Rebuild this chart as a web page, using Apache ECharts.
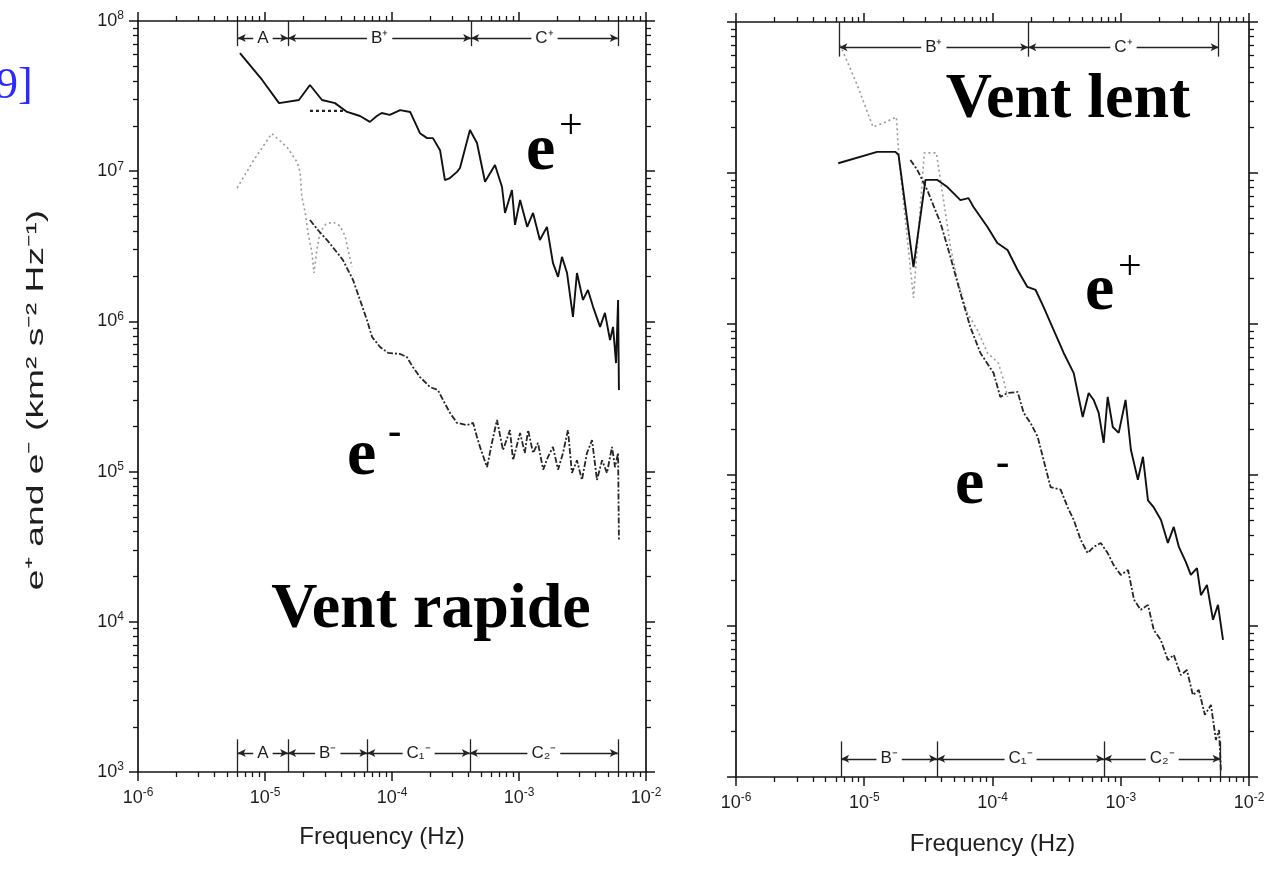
<!DOCTYPE html>
<html><head><meta charset="utf-8">
<style>html,body{margin:0;padding:0;background:#fff}#c{width:1276px;height:877px}</style>
<script src="https://cdn.jsdelivr.net/npm/echarts@6.0.0/dist/echarts.min.js"></script>
</head><body><div id="c"></div>
<script>
// ---------- tick labels ----------
const xTickValues = [1e-6, 1e-5, 1e-4, 1e-3, 1e-2];
const xTickExp = ['-6', '-5', '-4', '-3', '-2'];
const yTickValues = [1e3, 1e4, 1e5, 1e6, 1e7, 1e8];
const yTickExp = ['3', '4', '5', '6', '7', '8'];
const xAxisTitle = 'Frequency (Hz)';
const yAxisTitle = 'e⁺ and e⁻ (km² s⁻² Hz⁻¹)';

// ---------- Vent rapide (left panel) ----------
const fastEplus = [
  [6.35e-6, 6.12e7], [9.5e-6, 4.05e7], [1.29e-5, 2.84e7], [1.85e-5, 2.98e7], [2.26e-5, 3.75e7],
  [2.81e-5, 2.98e7], [3.56e-5, 2.84e7], [4.43e-5, 2.48e7], [5.6e-5, 2.33e7], [6.7e-5, 2.13e7],
  [7.6e-5, 2.33e7], [8.3e-5, 2.44e7], [9.6e-5, 2.37e7], [1.16e-4, 2.55e7], [1.39e-4, 2.48e7],
  [1.66e-4, 1.79e7], [1.89e-4, 1.66e7], [2.10e-4, 1.66e7], [2.39e-4, 1.38e7], [2.61e-4, 8.73e6],
  [2.86e-4, 9.0e6], [3.25e-4, 9.9e6], [3.43e-4, 1.05e7], [4.11e-4, 1.88e7], [4.67e-4, 1.54e7],
  [5.4e-4, 8.5e6], [6.47e-4, 1.10e7], [7.35e-4, 7.85e6], [7.76e-4, 5.27e6], [8.8e-4, 7.5e6],
  [9.3e-4, 4.39e6], [1.02e-3, 6.43e6], [1.16e-3, 4.26e6], [1.29e-3, 5.27e6], [1.46e-3, 3.48e6],
  [1.66e-3, 4.26e6], [1.85e-3, 2.45e6], [2.03e-3, 1.98e6], [2.18e-3, 2.69e6], [2.39e-3, 2.10e6],
  [2.66e-3, 1.07e6], [2.86e-3, 2.10e6], [3.19e-3, 1.39e6], [3.49e-3, 1.62e6], [3.83e-3, 1.25e6],
  [4.35e-3, 9.2e5], [4.75e-3, 1.14e6], [5.21e-3, 7.5e5], [5.5e-3, 9.2e5], [5.81e-3, 5.28e5],
  [6.03e-3, 1.39e6], [6.12e-3, 3.49e5]
];
const fastEplusDotted = [[2.26e-5, 2.52e7], [4.27e-5, 2.52e7]];
const fastEminusDotted = [
  [6.03e-6, 7.73e6], [8.18e-6, 1.19e7], [1.13e-5, 1.78e7], [1.49e-5, 1.45e7], [1.79e-5, 1.15e7],
  [1.89e-5, 9.9e6], [1.95e-5, 6.73e6], [2.07e-5, 5.35e6], [2.18e-5, 3.88e6], [2.34e-5, 2.90e6],
  [2.43e-5, 2.10e6], [2.56e-5, 2.99e6], [2.71e-5, 3.94e6], [3.02e-5, 4.45e6], [3.43e-5, 4.59e6],
  [3.90e-5, 4.32e6], [4.27e-5, 3.71e6], [4.51e-5, 2.99e6], [4.84e-5, 2.30e6]
];
const fastEminus = [
  [2.26e-5, 4.73e6], [2.61e-5, 4.06e6], [3.08e-5, 3.48e6], [3.56e-5, 2.99e6], [4.11e-5, 2.56e6],
  [4.93e-5, 1.89e6], [5.6e-5, 1.39e6], [6.35e-5, 1.02e6], [6.97e-5, 7.87e5], [8.05e-5, 6.76e5],
  [9.31e-5, 6.17e5], [1.16e-4, 6.07e5], [1.31e-4, 5.79e5], [1.46e-4, 4.97e5], [1.66e-4, 4.26e5],
  [1.99e-4, 3.66e5], [2.30e-4, 3.49e5], [2.52e-4, 3.00e5], [2.86e-4, 2.46e5], [3.25e-4, 2.11e5],
  [3.90e-4, 2.04e5], [4.35e-4, 2.11e5], [4.67e-4, 1.70e5], [4.93e-4, 1.46e5], [5.6e-4, 1.07e5],
  [6.12e-4, 1.55e5], [6.71e-4, 2.21e5], [7.48e-4, 1.39e5], [8.49e-4, 1.89e5], [8.97e-4, 1.19e5],
  [1.02e-3, 1.81e5], [1.11e-3, 1.33e5], [1.18e-3, 1.89e5], [1.29e-3, 1.33e5], [1.41e-3, 1.55e5],
  [1.55e-3, 1.03e5], [1.69e-3, 1.25e5], [1.85e-3, 1.46e5], [2.03e-3, 1.03e5], [2.22e-3, 1.33e5],
  [2.43e-3, 1.89e5], [2.61e-3, 9.8e4], [2.86e-3, 1.19e5], [3.13e-3, 8.8e4], [3.43e-3, 1.33e5],
  [3.76e-3, 1.62e5], [4.11e-3, 8.8e4], [4.51e-3, 1.19e5], [4.93e-3, 9.8e4], [5.4e-3, 1.46e5],
  [5.7e-3, 1.07e5], [6.03e-3, 1.33e5], [6.12e-3, 3.5e4]
];

// ---------- Vent lent (right panel) ----------
const slowEplus = [
  [6.27e-6, 1.16e7], [1.26e-5, 1.38e7], [1.75e-5, 1.38e7], [1.85e-5, 1.32e7], [2.42e-5, 2.38e6],
  [3.0e-5, 9.0e6], [3.72e-5, 9.0e6], [4.45e-5, 8.07e6], [5.62e-5, 6.62e6], [6.5e-5, 6.82e6],
  [7.11e-5, 5.96e6], [9.14e-5, 4.39e6], [1.09e-4, 3.44e6], [1.31e-4, 3.09e6], [1.57e-4, 2.28e6],
  [1.87e-4, 1.76e6], [2.17e-4, 1.68e6], [2.50e-4, 1.30e6], [3.0e-4, 9.1e5], [3.59e-4, 6.43e5],
  [4.30e-4, 4.73e5], [5.05e-4, 2.42e5], [5.62e-4, 3.49e5], [6.15e-4, 3.14e5], [6.73e-4, 2.58e5],
  [7.36e-4, 1.63e5], [7.91e-4, 3.29e5], [8.67e-4, 2.08e5], [9.64e-4, 1.90e5], [1.09e-3, 3.14e5],
  [1.20e-3, 1.47e5], [1.36e-3, 9.3e4], [1.49e-3, 1.32e5], [1.63e-3, 6.8e4], [1.81e-3, 6.1e4],
  [2.06e-3, 5.04e4], [2.33e-3, 3.55e4], [2.59e-3, 4.53e4], [2.84e-3, 3.34e4], [3.22e-3, 2.65e4],
  [3.52e-3, 2.18e4], [3.93e-3, 2.42e4], [4.22e-3, 1.60e4], [4.70e-3, 1.87e4], [5.24e-3, 1.10e4],
  [5.73e-3, 1.38e4], [6.27e-3, 8.1e3]
];
const slowEminusDotted = [
  [6.49e-6, 7.05e7], [8.81e-6, 3.83e7], [1.17e-5, 2.02e7], [1.41e-5, 2.14e7], [1.78e-5, 2.35e7],
  [1.87e-5, 1.22e7], [2.42e-5, 1.49e6], [2.94e-5, 1.36e7], [3.65e-5, 1.36e7], [3.93e-5, 9.0e6],
  [4.30e-5, 5.43e6], [4.70e-5, 3.24e6], [5.33e-5, 1.95e6], [6.38e-5, 1.18e6], [7.64e-5, 9.1e5],
  [9.14e-5, 6.43e5], [1.11e-4, 5.52e5], [1.22e-4, 4.26e5], [1.31e-4, 3.29e5]
];
const slowEminus = [
  [2.29e-5, 1.22e7], [2.59e-5, 1.05e7], [3.10e-5, 7.71e6], [3.93e-5, 4.67e6], [4.70e-5, 2.78e6],
  [5.62e-5, 1.60e6], [6.73e-5, 9.5e5], [8.05e-5, 6.43e5], [1.02e-4, 4.73e5], [1.15e-4, 3.29e5],
  [1.31e-4, 3.49e5], [1.57e-4, 3.55e5], [1.75e-4, 2.58e5], [1.98e-4, 2.21e5], [2.25e-4, 1.79e5],
  [2.50e-4, 1.26e5], [2.84e-4, 8.3e4], [3.40e-4, 8.0e4], [3.86e-4, 6.1e4], [4.30e-4, 5.04e4],
  [4.87e-4, 3.72e4], [5.52e-4, 3.04e4], [6.15e-4, 3.34e4], [6.98e-4, 3.55e4], [7.91e-4, 3.04e4],
  [8.81e-4, 2.53e4], [1.0e-3, 2.18e4], [1.14e-3, 2.35e4], [1.27e-3, 1.49e4], [1.43e-3, 1.28e4],
  [1.63e-3, 1.38e4], [1.81e-3, 9.4e3], [2.05e-3, 8.1e3], [2.33e-3, 5.96e3], [2.59e-3, 6.43e3],
  [2.94e-3, 4.73e3], [3.28e-3, 5.11e3], [3.65e-3, 3.49e3], [4.06e-3, 3.77e3], [4.53e-3, 2.58e3],
  [5.05e-3, 3.0e3], [5.52e-3, 1.76e3], [5.84e-3, 2.05e3], [6.04e-3, 1.08e3]
];

// ---------- frequency bands (bracket boundaries & labels) ----------
const fastTopBounds = [6.1e-6, 1.52e-5, 4.2e-4, 6.0e-3];
const fastTopLabels = ['A', 'B⁺', 'C⁺'];
const fastBottomBounds = [6.1e-6, 1.52e-5, 6.4e-5, 4.1e-4, 6.0e-3];
const fastBottomLabels = ['A', 'B⁻', 'C₁⁻', 'C₂⁻'];
const slowTopBounds = [6.4e-6, 1.9e-4, 5.8e-3];
const slowTopLabels = ['B⁺', 'C⁺'];
const slowBottomBounds = [6.6e-6, 3.7e-5, 7.4e-4, 6.0e-3];
const slowBottomLabels = ['B⁻', 'C₁⁻', 'C₂⁻'];

// ---------- layout (positions / styles) ----------
const grids = [
  { left: 138, top: 21, width: 508, height: 751 },
  { left: 736, top: 22, width: 513, height: 755 }
];
const titlePadding = [[0, 20, 0, 0], [0, 0, 0, 0]];
// vertical placement of the band brackets (in data units of the y axis)
const bracketLevels = {
  fastTop:    { line: 7.7e7, tickFrom: 1.0e8, tickTo: 6.8e7 },
  fastBottom: { line: 1.34e3, tickFrom: 1.65e3, tickTo: 1.0e3 },
  slowTop:    { line: 6.8e7, tickFrom: 1.0e8, tickTo: 5.9e7 },
  slowBottom: { line: 1.32e3, tickFrom: 1.72e3, tickTo: 1.0e3 }
};

const INK = '#141414';
const SANS = '"Liberation Sans", Arial, sans-serif';
const SERIF = '"Liberation Serif", "Times New Roman", serif';

function minorValues(lo, hi) {
  const out = [];
  for (let e = lo; e < hi; e++) for (let k = 2; k <= 9; k++) out.push(k * Math.pow(10, e));
  return out;
}
const xMinor = minorValues(-6, -2);
const yMinor = minorValues(3, 8);

function expLabel(values, exps) {
  return function (v) {
    let i = values.findIndex(t => Math.abs(Math.log10(t) - Math.log10(v)) < 1e-6);
    if (i < 0) return '';
    return '{b|10}{s|' + exps[i] + '}';
  };
}
const richLab = {
  b: { fontSize: 18, fontFamily: SANS, color: '#1e1e1e', lineHeight: 22 },
  s: { fontSize: 12, fontFamily: SANS, color: '#1e1e1e', verticalAlign: 'top', lineHeight: 13 }
};

const xAxes = [], yAxes = [];
grids.forEach((g, gi) => {
  const lineS = { show: true, lineStyle: { color: INK, width: 1.7 } };
  xAxes.push({
    type: 'log', logBase: 10, gridIndex: gi, position: 'bottom', min: 1e-6, max: 1e-2,
    axisLine: lineS,
    axisTick: { show: true, customValues: xTickValues, length: 9, lineStyle: { color: INK, width: 1.5 } },
    axisLabel: { show: true, customValues: xTickValues, formatter: expLabel(xTickValues, xTickExp), rich: richLab, margin: 15 },
    splitLine: { show: false }, minorTick: { show: false },
    name: xAxisTitle, nameLocation: 'middle', nameGap: gi === 0 ? 53 : 55,
    nameTextStyle: { fontSize: 24, fontFamily: SANS, color: '#1e1e1e', padding: titlePadding[gi] }
  });
  xAxes.push({
    type: 'log', logBase: 10, gridIndex: gi, position: 'top', min: 1e-6, max: 1e-2,
    axisLine: lineS,
    axisTick: { show: true, customValues: xTickValues, length: 9, lineStyle: { color: INK, width: 1.5 } },
    axisLabel: { show: false }, splitLine: { show: false }
  });
  ['bottom', 'top'].forEach(p => xAxes.push({
    type: 'log', logBase: 10, gridIndex: gi, position: p, min: 1e-6, max: 1e-2,
    axisLine: { show: false },
    axisTick: { show: true, customValues: xMinor, length: 5, lineStyle: { color: INK, width: 1.3 } },
    axisLabel: { show: false }, splitLine: { show: false }
  }));
  yAxes.push({
    type: 'log', logBase: 10, gridIndex: gi, position: 'left', min: 1e3, max: 1e8,
    axisLine: lineS,
    axisTick: { show: true, customValues: yTickValues, length: 9, lineStyle: { color: INK, width: 1.5 } },
    axisLabel: gi === 0
      ? { show: true, customValues: yTickValues, formatter: expLabel(yTickValues, yTickExp), rich: richLab, margin: 14 }
      : { show: false },
    splitLine: { show: false }
  });
  yAxes.push({
    type: 'log', logBase: 10, gridIndex: gi, position: 'right', min: 1e3, max: 1e8,
    axisLine: lineS,
    axisTick: { show: true, customValues: yTickValues, length: 9, lineStyle: { color: INK, width: 1.5 } },
    axisLabel: { show: false }, splitLine: { show: false }
  });
  ['left', 'right'].forEach(p => yAxes.push({
    type: 'log', logBase: 10, gridIndex: gi, position: p, min: 1e3, max: 1e8,
    axisLine: { show: false },
    axisTick: { show: true, customValues: yMinor, length: 5, lineStyle: { color: INK, width: 1.3 } },
    axisLabel: { show: false }, splitLine: { show: false }
  }));
});

function curve(name, data, gi, style, z) {
  return {
    name, type: 'line', data, xAxisIndex: gi * 4, yAxisIndex: gi * 4,
    showSymbol: false, symbol: 'none', smooth: false, z: z || 3,
    lineStyle: style, silent: true, animation: false
  };
}

function bracketSeries(name, gi, bounds, labels, lvl) {
  const lines = [];
  for (let i = 0; i < labels.length; i++) {
    lines.push([{ coord: [bounds[i], lvl.line] }, { coord: [bounds[i + 1], lvl.line] }]);
  }
  bounds.forEach(b => lines.push([
    { coord: [b, lvl.tickFrom], symbol: 'none' },
    { coord: [b, lvl.tickTo], symbol: 'none' }
  ]));
  const pts = labels.map((t, i) => ({
    name: t, coord: [Math.sqrt(bounds[i] * bounds[i + 1]), lvl.line], value: t
  }));
  return [{
    name: name + 'L', type: 'line', data: [], xAxisIndex: gi * 4, yAxisIndex: gi * 4, z: 4, silent: true,
    markLine: {
      silent: true, animation: false, symbol: ['arrow', 'arrow'], symbolSize: [6, 8],
      lineStyle: { color: '#222', width: 1.3, type: 'solid' },
      label: { show: false }, emphasis: { disabled: true },
      data: lines
    }
  }, {
    name: name + 'T', type: 'line', data: [], xAxisIndex: gi * 4, yAxisIndex: gi * 4, z: 6, silent: true,
    markPoint: {
      silent: true, animation: false, symbol: 'circle', symbolSize: 0,
      label: {
        show: true, position: 'inside', formatter: '{b}', color: '#1e1e1e', fontSize: 17, fontFamily: SANS,
        backgroundColor: '#fff', padding: [0, 4]
      },
      data: pts
    }
  }];
}

const series = [
  curve('fast e- dotted', fastEminusDotted, 0, { color: '#9a9a9a', width: 1.6, type: [2, 3] }, 2),
  curve('fast e-', fastEminus, 0, { color: '#262626', width: 1.8, type: [6, 2, 2, 2] }, 3),
  curve('fast e+', fastEplus, 0, { color: '#111', width: 1.9 }, 4),
  curve('fast e+ dotted', fastEplusDotted, 0, { color: '#222', width: 2.3, type: [3, 3] }, 4),
  curve('slow e- dotted', slowEminusDotted, 1, { color: '#9a9a9a', width: 1.6, type: [2, 3] }, 2),
  curve('slow e-', slowEminus, 1, { color: '#262626', width: 1.8, type: [6, 2, 2, 2] }, 3),
  curve('slow e+', slowEplus, 1, { color: '#111', width: 1.9 }, 4),
  ...bracketSeries('fastTop', 0, fastTopBounds, fastTopLabels, bracketLevels.fastTop),
  ...bracketSeries('fastBottom', 0, fastBottomBounds, fastBottomLabels, bracketLevels.fastBottom),
  ...bracketSeries('slowTop', 1, slowTopBounds, slowTopLabels, bracketLevels.slowTop),
  ...bracketSeries('slowBottom', 1, slowBottomBounds, slowBottomLabels, bracketLevels.slowBottom)
];

function txt(text, x, y, font, opts, extra) {
  return Object.assign({
    type: 'text', x, y, silent: true, z: 20,
    style: Object.assign({ text, font, fill: '#000', align: 'left', verticalAlign: 'middle' }, (opts || {}))
  }, extra || {});
}
const BIG = 'bold 64px ' + SERIF;
const graphics = [
  txt('9]', -4, 86, '44px ' + SERIF, { fill: '#2a2aff' }),
  txt(yAxisTitle, 36, 400, '24px ' + SANS, { fill: '#1e1e1e', align: 'center' },
      { rotation: Math.PI / 2, scaleX: 1.55, scaleY: 1 }),
  txt('e', 526, 152, 'bold 66px ' + SERIF),
  txt('+', 559, 127, '42px ' + SERIF),
  txt('e', 347, 457, 'bold 66px ' + SERIF),
  txt('-', 388, 434, 'bold 40px ' + SERIF),
  txt('Vent rapide', 431, 610, BIG, { align: 'center' }),
  txt('Vent lent', 1068, 100, BIG, { align: 'center' }),
  txt('e', 1085, 292, 'bold 66px ' + SERIF),
  txt('+', 1118, 268, '42px ' + SERIF),
  txt('e', 955, 486, 'bold 66px ' + SERIF),
  txt('-', 996, 465, 'bold 40px ' + SERIF)
];

const chart = echarts.init(document.getElementById('c'), null, { renderer: 'canvas' });
chart.setOption({
  backgroundColor: '#fff',
  animation: false,
  grid: grids,
  xAxis: xAxes,
  yAxis: yAxes,
  series,
  graphic: graphics
});
</script>
</body></html>
